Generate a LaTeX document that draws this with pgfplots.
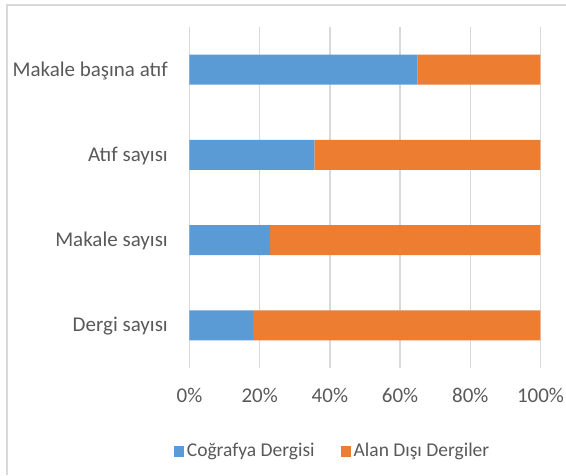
\documentclass[border=0pt]{standalone}
\usepackage{pgfplots}
\pgfplotsset{compat=1.18}
\usepackage{fontspec}
\setmainfont{Carlito}
\definecolor{cblue}{HTML}{5B9BD5}
\definecolor{corange}{HTML}{ED7D31}
\definecolor{cgrid}{HTML}{D9D9D9}
\definecolor{ctext}{HTML}{595959}

\begin{document}
\begin{tikzpicture}[x=1pt,y=1pt]
\fontsize{21}{25}\selectfont
\path[use as bounding box] (0,0) rectangle (566,475);
\draw[cgrid, line width=2pt] (6.5,0) -- (6.5,469.5) -- (566,469.5);
\begin{axis}[
    at={(189.5pt,107pt)}, anchor=south west,
    scale only axis,
    width=351pt, height=341pt,
    xbar stacked,
    bar width=30pt,
    xmin=0, xmax=100,
    ymin=-0.5, ymax=3.5,
    xtick={0,20,40,60,80,100},
    xticklabels={0\%,20\%,40\%,60\%,80\%,100\%},
    ytick={0,1,2,3},
    yticklabels={Dergi sayısı,Makale sayısı,Atıf sayısı\hspace{5pt},Makale başına atıf},
    major tick length=0pt,
    axis line style={draw=none},
    xmajorgrids,
    major grid style={cgrid, line width=1.3pt},
    tick label style={text=ctext, font=\fontsize{21}{25}\selectfont},
    xticklabel style={anchor=base, inner sep=0pt, yshift=-34.5pt},
    yticklabel style={anchor=base east, inner sep=0pt, xshift=-21.5pt, yshift=-6.5pt},
    legend columns=2,
    legend style={draw=none, fill=none, at={(0.409,-0.245)}, anchor=center,
        font=\fontsize{19.5}{23}\selectfont, text=ctext,
        nodes={inner sep=3pt},
        /tikz/every even column/.append style={column sep=23pt}},
    legend image code/.code={\fill[#1] (0pt,-5.5pt) rectangle (10pt,5.5pt);},
]
\addplot[fill=cblue, draw=none] coordinates {(18.1,0) (23.0,1) (35.6,2) (65.0,3)};
\addplot[fill=corange, draw=none] coordinates {(81.9,0) (77.0,1) (64.4,2) (35.0,3)};
\legend{Coğrafya Dergisi, Alan Dışı Dergiler}
\end{axis}
\end{tikzpicture}
\end{document}
